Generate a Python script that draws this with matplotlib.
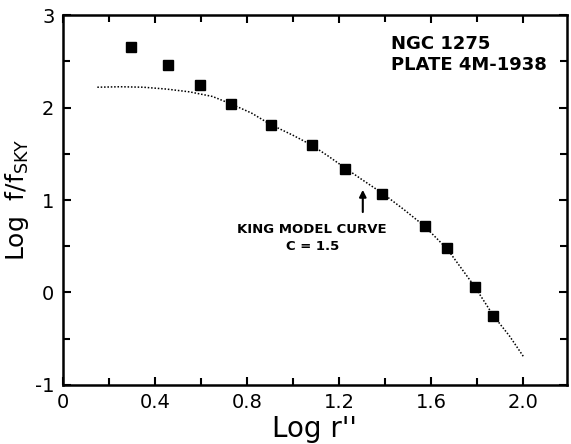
import matplotlib.pyplot as plt
from matplotlib.ticker import MultipleLocator

# measured points (squares)
log_r = [0.296, 0.457, 0.596, 0.730, 0.904, 1.083, 1.226, 1.387, 1.574, 1.670, 1.791, 1.870]
log_f = [2.654, 2.459, 2.243, 2.038, 1.811, 1.595, 1.335, 1.065, 0.719, 0.481, 0.059, -0.254]

# King model curve, c = 1.5
king_x = [0.15, 0.25, 0.35, 0.45, 0.55, 0.65, 0.73, 0.82, 0.90, 1.00, 1.08, 1.15,
          1.23, 1.30, 1.39, 1.48, 1.57, 1.67, 1.79, 1.87, 1.94, 2.00]
king_y = [2.22, 2.225, 2.22, 2.20, 2.17, 2.12, 2.04, 1.94, 1.82, 1.70, 1.595, 1.48,
          1.34, 1.22, 1.07, 0.90, 0.72, 0.47, 0.06, -0.25, -0.47, -0.69]

xticks = [0, 0.4, 0.8, 1.2, 1.6, 2.0]
xticklabels = ['0', '0.4', '0.8', '1.2', '1.6', '2.0']
yticks = [-1, 0, 1, 2, 3]
yticklabels = ['-1', '0', '1', '2', '3']

fig = plt.figure(figsize=(5.71, 4.44), dpi=100)
ax = fig.add_axes([0.110, 0.133, 0.883, 0.833])

ax.plot(king_x, king_y, linestyle=(0, (1, 1.2)), color='black', linewidth=1.1)
ax.plot(log_r, log_f, 's', color='black', markersize=6.5)

ax.set_xlim(0, 2.19)
ax.set_ylim(-1, 3)
ax.set_xticks(xticks)
ax.set_xticklabels(xticklabels)
ax.set_yticks(yticks)
ax.set_yticklabels(yticklabels)
ax.xaxis.set_minor_locator(MultipleLocator(0.2))
ax.yaxis.set_minor_locator(MultipleLocator(0.5))
ax.tick_params(which='both', direction='in', top=True, right=True, width=1.5,
               labelsize=14, pad=6)
ax.tick_params(which='major', length=6)
ax.tick_params(which='minor', length=5)
for s in ax.spines.values():
    s.set_linewidth(1.8)

ax.set_xlabel("Log r''", fontsize=20, labelpad=2)
ax.set_ylabel(r'Log  f/f$_{\mathrm{SKY}}$', fontsize=18, labelpad=3)

ax.text(1.426, 2.57, 'NGC 1275\nPLATE 4M-1938', fontsize=13, fontweight='bold',
        va='center', ha='left', linespacing=1.2)
ax.text(1.083, 0.59, 'KING MODEL CURVE\nC = 1.5', fontsize=9.5, fontweight='bold',
        va='center', ha='center', linespacing=1.4)
ax.annotate('', xy=(1.303, 1.14), xytext=(1.303, 0.84),
            arrowprops=dict(arrowstyle='-|>', color='black', lw=1.5, mutation_scale=10))

fig.savefig('out.png', dpi=100)
